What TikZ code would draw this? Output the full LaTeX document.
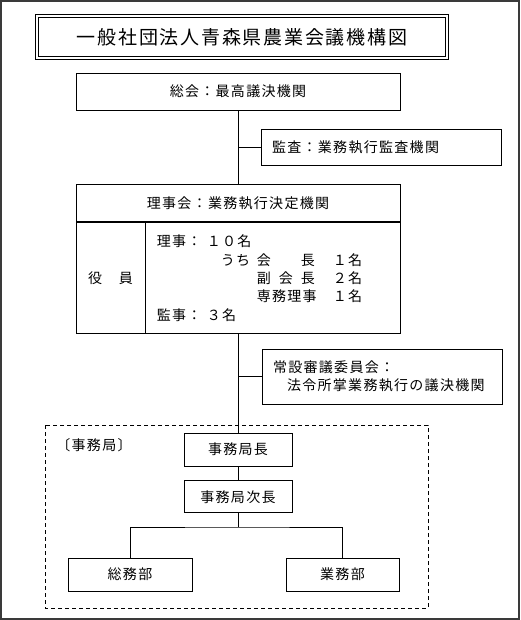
\documentclass[tikz,border=0pt]{standalone}
\usepackage{fontspec}
\setmainfont{Noto Sans CJK JP}[LetterSpace=9.3]
\usepackage{tikz}
\usetikzlibrary{positioning}
\definecolor{framegray}{HTML}{3A3A3A}
\tikzset{block/.style={draw,line width=0.8pt,inner sep=0pt,font=\fontsize{14}{18.3}\selectfont},
         line/.style={line width=0.8pt}
}
\tikzstyle{office} = [draw,line width=0.8pt,dash pattern=on 4pt off 3pt]

\begin{document}
\begin{tikzpicture}[x=1pt,y=-1pt]

\useasboundingbox (0,0) rectangle (520,620);
\draw[framegray,line width=2.4pt] (1.2,1.2) rectangle (518.8,618.8);

\node[draw,line width=1pt,double,double distance=2pt,inner sep=0pt,minimum width=410pt,minimum height=42pt,font=\fontsize{19}{22}\selectfont] (title) at (242,37) {一般社団法人青森県農業会議機構図};

\node[block,minimum width=324pt,minimum height=37pt] (soukai) at (238,91.5) {総会：最高議決機関};
\node[block,minimum width=240pt,minimum height=36pt,text width=218pt,inner xsep=11pt,align=left] (kansa) at (381,147) {監査：業務執行監査機関};
\node[block,minimum width=324pt,minimum height=37pt,below=74pt of soukai] (rijikai) {理事会：業務執行決定機関};
\node[block,anchor=north west,minimum width=69pt,minimum height=111pt] (yakuin) at (rijikai.south west) {役　員};
\node[block,anchor=north west,minimum width=255pt,minimum height=111pt,text width=233pt,inner xsep=11pt,align=left] (meibo) at (yakuin.north east) {\makebox[50pt][l]{理事：}１０名\\
\hspace*{64pt}\makebox[36pt][l]{うち}\makebox[44pt][l]{会}\makebox[32pt][l]{長}１名\\
\hspace*{100pt}\makebox[22pt][l]{副}\makebox[22pt][l]{会}\makebox[32pt][l]{長}２名\\
\hspace*{100pt}\makebox[76pt][l]{専務理事}１名\\
\makebox[50pt][l]{監事：}３名};
\node[block,minimum width=240pt,minimum height=55pt,text width=218pt,inner xsep=11pt,align=left] (jousetsu) at (382,376.5) {常設審議委員会：\\\hspace*{14pt}法令所掌業務執行の議決機関};

\node[block,minimum width=108pt,minimum height=33pt] (kyokucho) at (238,449.5) {事務局長};
\node[block,minimum width=108pt,minimum height=32pt,below=14pt of kyokucho] (jicho) {事務局次長};
\node[block,minimum width=124pt,minimum height=33pt] (soumu) at (130,574.5) {総務部};
\node[block,minimum width=113pt,minimum height=33pt] (gyoumu) at (342.5,574.5) {業務部};
\node[font=\fontsize{14}{18.3}\selectfont,inner sep=0pt] (jimukyoku) at (94,445) {〔事務局〕};
\draw[office] (45,425) rectangle (428,608);
\coordinate (bunki) at (238,527);

\draw[line] (soukai)--(rijikai);
\draw[line] (soukai.south |- kansa.west)--(kansa);
\draw[line] (rijikai.center |- meibo.south)--(kyokucho);
\draw[line] (rijikai.center |- jousetsu.west)--(jousetsu);
\draw[line] (kyokucho)--(jicho);
\draw[line] (jicho)--(bunki);
\draw[line] (soumu) |- (bunki) -| (gyoumu);

\end{tikzpicture}
\end{document}
